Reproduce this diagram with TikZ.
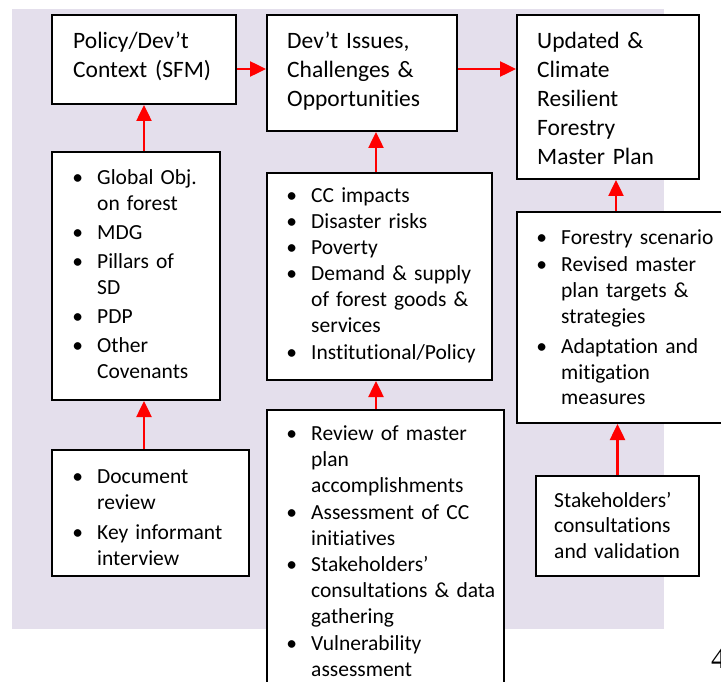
\documentclass[tikz,border=0pt]{standalone}
\usepackage{fontspec}
\setmainfont{Carlito}[Ligatures={TeX,NoCommon},Contextuals=NoAlternate]
\newfontfamily\pnumfont{Liberation Serif}
\usetikzlibrary{arrows.meta}
\definecolor{bgl}{HTML}{E4DFEC}
\newcommand\bul{\leavevmode\llap{\textbullet\hspace{14pt}}}
\newcommand\tiq{t\kern0pt i}
\tikzset{
  box/.style={draw=black, line width=2pt, fill=white, inner sep=0pt, anchor=north west},
  ttl/.style={inner sep=0pt, anchor=base west, text width=200pt, align=left, font=\fontsize{23.5pt}{29pt}\selectfont},
  lst/.style={inner sep=0pt, anchor=base west, text width=220pt, align=left, font=\fontsize{21.5pt}{26pt}\selectfont},
  arr/.style={draw=red, line width=2.5pt, -{Triangle[length=16pt,width=15pt]}}
}
\begin{document}
\begin{tikzpicture}[x=1pt,y=-1pt]
\useasboundingbox (0,0) rectangle (721,682);
\fill[bgl] (12,9) rectangle (664,629);
% boxes
\node[box, minimum width=184pt, minimum height=89pt] (ctx) at (51,14) {};
\node[box, minimum width=190pt, minimum height=116pt] (iss) at (266,14) {};
\node[box, minimum width=182pt, minimum height=164pt] (upd) at (516,14) {};
\node[box, minimum width=168pt, minimum height=248pt] (lbox) at (51,151) {};
\node[box, minimum width=225pt, minimum height=207pt] (cc) at (266,172) {};
\node[box, minimum width=237pt, minimum height=291pt] (bot) at (266,409) {};
\node[box, minimum width=214pt, minimum height=211pt] (rbox) at (516,211) {};
\node[box, minimum width=197pt, minimum height=126pt] (doc) at (51,449) {};
\node[box, minimum width=163pt, minimum height=100pt] (stk) at (535,475) {};
% texts
\node[ttl] (ctx-t) at (73,49) {Policy/Dev’t\\Context (SFM)};
\node[ttl] (iss-t) at (287,49) {Dev’t Issues,\\Challenges \&\\Opportuni\tiq es};
\node[ttl] (upd-t) at (537,49) {Updated \&\\Climate\\Resilient\\Forestry\\Master Plan};
\node[lst] (lbox-t) at (97,185) {\bul Global Obj.\\on forest\\[3pt]\bul MDG\\[3pt]\bul Pillars of\\SD\\[3pt]\bul PDP\\[3pt]\bul Other\\Covenants};
\node[lst] (cc-t) at (311,203) {\bul CC impacts\\\bul Disaster risks\\\bul Poverty\\\bul Demand \& supply\\of forest goods \&\\services\\[1pt]\bul Ins\tiq tu\tiq onal/Policy};
\node[lst] (bot-t) at (311,440) {\bul Review of master\\plan\\[0.5pt]accomplishments\\[0.5pt]\bul Assessment of CC\\ini\tiq a\tiq ves\\[0.5pt]\bul Stakeholders’\\consulta\tiq ons \& data\\gathering\\[0.5pt]\bul Vulnerability\\assessment};
\node[lst] (rbox-t) at (561,244) {\bul Forestry scenario\\[2pt]\bul Revised master\\plan targets \&\\strategies\\[3pt]\bul Adapta\tiq on and\\mi\tiq ga\tiq on\\measures};
\node[lst] (doc-t) at (97,483) {\bul Document\\review\\[4pt]\bul Key informant\\interview};
\node[lst, font=\fontsize{21.5pt}{25.5pt}\selectfont] (stk-t) at (554,507) {Stakeholders’\\consulta\tiq ons\\and valida\tiq on};
\node[inner sep=0pt, anchor=base west, font=\pnumfont\fontsize{30pt}{30pt}\selectfont] (pnum) at (711,668) {4};
% arrows
\draw[arr] (ctx.east |- 0,69) -- (iss.west |- 0,69);
\draw[arr] (iss.east |- 0,69) -- (upd.west |- 0,69);
\draw[arr] (ctx.south |- lbox.north) -- (ctx.south);
\draw[arr] (ctx.south |- doc.north) -- (ctx.south |- lbox.south);
\draw[arr] (cc.north -| 376,0) -- (iss.south -| 376,0);
\draw[arr] (bot.north -| 376,0) -- (cc.south -| 376,0);
\draw[arr] (rbox.north -| 616,0) -- (upd.south -| 616,0);
\draw[arr] (stk.north) -- (stk.north |- rbox.south);
\end{tikzpicture}
\end{document}
